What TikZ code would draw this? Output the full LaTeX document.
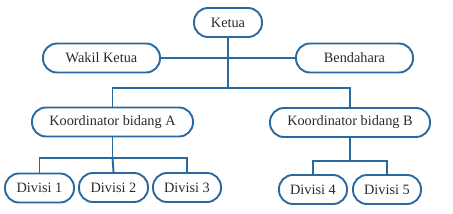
\documentclass[tikz,border=0pt]{standalone}
\usepackage{fontspec}
\setmainfont{Liberation Serif}
\definecolor{boxblue}{HTML}{2A69A0}
\definecolor{txt}{HTML}{2B2B2B}
\begin{document}
\begin{tikzpicture}[x=1pt,y=-1pt,
  pill/.style={draw=boxblue, line width=1.9pt, rounded corners=14pt, fill=white,
    minimum height=29pt, inner sep=0pt, text=txt, font=\fontsize{14.3}{16}\selectfont},
  conn/.style={draw=boxblue, line width=1.9pt}]
\useasboundingbox (0,0) rectangle (453,214);
\node[pill, minimum width=68pt] (K) at (228,22.5) {Ketua};
\node[pill, minimum width=117pt] (W) at (101.5,58) {Wakil Ketua};
\node[pill, minimum width=117pt] (B) at (354.5,58) {Bendahara};
\node[pill, minimum width=161pt] (KA) at (112.5,122) {Koordinator bidang A};
\node[pill, minimum width=160pt] (KB) at (350,122.5) {Koordinator bidang B};
\node[pill, minimum width=69pt] (D1) at (39.5,188) {Divisi 1};
\node[pill, minimum width=69pt] (D2) at (113.5,187.5) {Divisi 2};
\node[pill, minimum width=68pt] (D3) at (187,187.5) {Divisi 3};
\node[pill, minimum width=68pt] (D4) at (313,189.5) {Divisi 4};
\node[pill, minimum width=68pt] (D5) at (387,189.5) {Divisi 5};
\coordinate (J1) at (228,88);
\coordinate (J2) at (112.5,158);
\coordinate (J3) at (350,161);
\draw[conn] (W.east) -- (B.west);
\draw[conn] (K.south) -- (J1);
\draw[conn] (KA.north) |- (J1) -| (KB.north);
\draw[conn] (KA.south) -- (J2);
\draw[conn] (D1.north) |- (J2) -| (D3.north);
\draw[conn] (J2) -- (D2.north);
\draw[conn] (KB.south) -- (J3);
\draw[conn] (D4.north) |- (J3) -| (D5.north);
\end{tikzpicture}
\end{document}
